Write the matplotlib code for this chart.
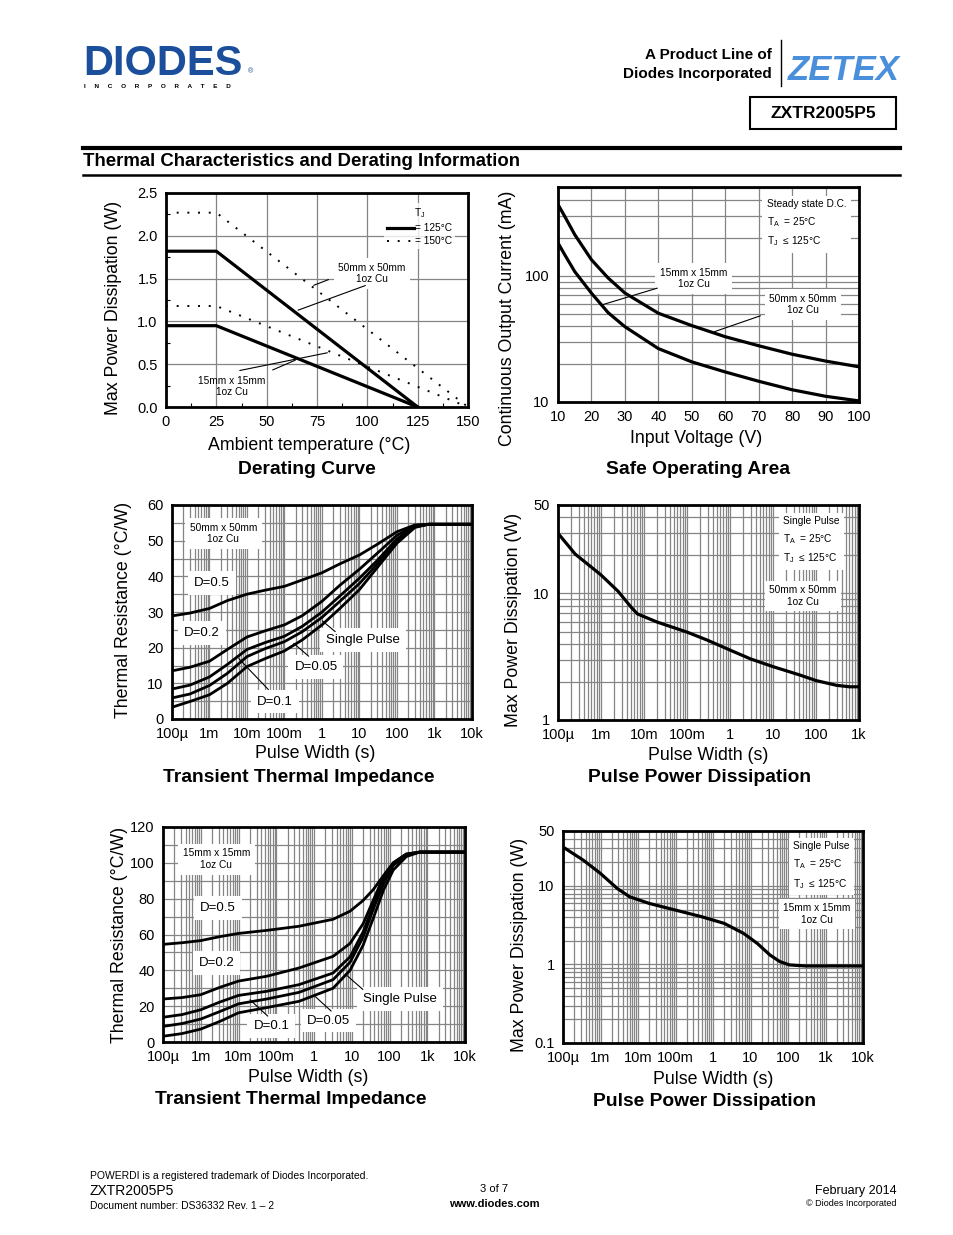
import numpy as np
import matplotlib.pyplot as plt
from matplotlib.ticker import MultipleLocator, LogLocator, NullFormatter
from matplotlib.lines import Line2D
from matplotlib.patches import Rectangle

plt.rcParams['font.family'] = ['Liberation Sans', 'DejaVu Sans']
plt.rcParams['mathtext.default'] = 'regular'

# ---- data ----
# Derating curve
der_temp_125 = [0, 25, 125]
der_50mm_125 = [1.82, 1.82, 0.0]
der_15mm_125 = [0.95, 0.95, 0.0]
der_temp_150 = [0, 25, 150]
der_50mm_150 = [2.27, 2.27, 0.0]
der_15mm_150 = [1.18, 1.18, 0.0]

# Safe operating area
soa_volt = [10, 12, 15, 20, 25, 30, 40, 50, 60, 70, 80, 90, 100]
soa_50mm = [367, 296, 212, 134, 96, 73, 50.5, 40.3, 32.9, 27.9, 23.9, 21.1, 19.0]
soa_15mm = [182, 147, 108, 72.8, 51, 39.5, 26.5, 20.8, 17.3, 14.6, 12.5, 11.1, 10.2]

# pulse width axis ticks
pw_ticks = [1e-4, 1e-3, 1e-2, 1e-1, 1, 10, 100, 1e3, 1e4]
pw_labels = ['100µ', '1m', '10m', '100m', '1', '10', '100', '1k', '10k']

# Transient thermal impedance, 50mm x 50mm
tr50_t = [1e-4, 3e-4, 1e-3, 3e-3, 1e-2, 3e-2, 0.1, 0.3, 1, 3, 10, 30, 100, 300, 700, 1e4]
tr50_single = [3.3, 4.9, 6.8, 10.0, 14.7, 16.9, 19.1, 22.2, 26.4, 31.0, 36.3, 42.5, 49.3, 53.7, 54.6, 54.6]
tr50_d005 = [5.9, 7.0, 9.4, 12.8, 17.5, 19.7, 21.7, 24.5, 28.5, 33.0, 38.0, 43.5, 50.0, 53.9, 54.6, 54.6]
tr50_d01 = [8.4, 9.5, 11.8, 15.3, 19.5, 21.4, 23.2, 26.0, 30.0, 34.5, 39.5, 44.5, 50.5, 54.0, 54.6, 54.6]
tr50_d02 = [13.5, 14.5, 16.2, 19.5, 23.0, 24.7, 26.4, 29.0, 33.0, 37.5, 42.0, 46.5, 51.5, 54.2, 54.6, 54.6]
tr50_d05 = [28.9, 29.7, 31.0, 33.2, 35.0, 36.1, 37.2, 39.0, 41.0, 43.5, 46.0, 49.0, 52.5, 54.4, 54.6, 54.6]

# Pulse power dissipation, 50mm x 50mm
pp50_t = [1e-4, 2.5e-4, 1e-3, 2.5e-3, 5e-3, 7e-3, 2e-2, 0.1, 0.3, 1, 3, 10, 40, 100, 300, 600, 1000]
pp50_p = [29.9, 20.5, 14.0, 10.4, 7.8, 6.9, 5.95, 4.95, 4.27, 3.57, 3.04, 2.64, 2.28, 2.05, 1.88, 1.83, 1.83]

# Transient thermal impedance, 15mm x 15mm
tr15_t = [1e-4, 3.2e-4, 1e-3, 3.2e-3, 1e-2, 5.6e-2, 0.4, 3.2, 9, 20, 37, 70, 126, 280, 630, 1e4]
tr15_single = [3.2, 4.7, 7.2, 11.5, 16.3, 19.2, 22.7, 30.0, 40.0, 54.0, 69.0, 85.0, 96.0, 103.5, 106, 106]
tr15_d005 = [8.7, 10.3, 12.8, 17.0, 21.3, 24.0, 27.7, 34.8, 44.5, 58.5, 74.0, 88.5, 98.6, 104.3, 106, 106]
tr15_d01 = [13.8, 15.3, 18.0, 22.3, 26.0, 28.3, 32.0, 38.5, 47.5, 61.5, 76.0, 90.0, 99.0, 104.5, 106, 106]
tr15_d02 = [24.0, 24.8, 26.4, 30.5, 34.0, 36.7, 41.3, 47.8, 55.0, 66.0, 79.0, 92.5, 100.0, 104.8, 106, 106]
tr15_d05 = [54.5, 55.4, 56.6, 58.8, 60.6, 62.3, 64.6, 68.5, 73.0, 79.0, 85.0, 93.0, 100.0, 105.0, 106, 106]

# Pulse power dissipation, 15mm x 15mm
pp15_t = [1e-4, 3.5e-4, 1e-3, 2.8e-3, 6e-3, 2e-2, 0.1, 0.5, 2, 6.5, 15, 33, 60, 110, 300, 1e4]
pp15_p = [31.3, 21.2, 14.4, 9.27, 7.26, 5.98, 4.92, 4.05, 3.33, 2.49, 1.86, 1.32, 1.09, 0.986, 0.957, 0.957]

W, H = 954, 1235
fig = plt.figure(figsize=(W / 100, H / 100), dpi=100)


def rect(l, t, r, b):
    return [l / W, 1 - b / H, (r - l) / W, (b - t) / H]


def ftext(px, py, s, **kw):
    return fig.text(px / W, 1 - py / H, s, **kw)


def hline(x0, x1, py, lw, color='black'):
    fig.add_artist(Line2D([x0 / W, x1 / W], [1 - py / H, 1 - py / H], lw=lw, color=color))


def style(ax, which='both'):
    for sp in ax.spines.values():
        sp.set_linewidth(2)
    ax.tick_params(which='both', length=0, labelsize=10.5, pad=6)
    ax.grid(which=which, color='#858585', lw=0.9)
    ax.set_axisbelow(True)


def log_pw(ax, lo, hi):
    ax.set_xscale('log')
    ax.set_xlim(lo, hi)
    n = [t for t in pw_ticks if lo <= t <= hi]
    ax.set_xticks(n)
    ax.set_xticklabels(pw_labels[:len(n)])
    ax.xaxis.set_minor_locator(LogLocator(base=10, subs=np.arange(2, 10), numticks=100))
    ax.xaxis.set_minor_formatter(NullFormatter())


box = dict(boxstyle='square,pad=0.45', fc='white', ec='none')
small = 7.3
lab = 9.5
thick = 2.3
axl = 12.8
ttl = 13.9

# ---- header ----
ftext(83, 75, 'DIODES', fontsize=30, fontweight='bold', color='#1b4f9c', va='baseline')
hline(84, 244, 61, 1.3, 'white')
ftext(248, 73, '®', fontsize=5, color='#1b4f9c', va='baseline')
ftext(84, 88, 'I     N     C     O     R     P     O     R     A     T     E     D', fontsize=4.6,
      fontweight='bold', va='baseline')
ftext(772, 55, 'A Product Line of', fontsize=11, fontweight='bold', ha='right', va='center')
ftext(772, 74, 'Diodes Incorporated', fontsize=11, fontweight='bold', ha='right', va='center')
fig.add_artist(Line2D([781 / W, 781 / W], [1 - 40 / H, 1 - 86 / H], lw=1, color='black'))
ftext(788, 80, 'ZETEX', fontsize=25, fontweight='bold', fontstyle='italic', color='#4a8fdc',
      va='baseline', family=['Liberation Sans Narrow', 'Liberation Sans'])
fig.add_artist(Rectangle((750 / W, 1 - 129 / H), 146 / W, 32 / H, fill=False, lw=1.5,
                         transform=fig.transFigure))
ftext(823, 113, 'ZXTR2005P5', fontsize=12.5, fontweight='bold', ha='center', va='center')

hline(83, 900, 148, 3)
ftext(83, 162, 'Thermal Characteristics and Derating Information', fontsize=13.4,
      fontweight='bold', va='center')
hline(83, 900, 175, 1.8)

# ---- Derating curve ----
ax = fig.add_axes(rect(166, 193, 468, 407))
style(ax, 'major')
ax.plot(der_temp_125, der_50mm_125, color='black', lw=thick, label='= 125°C', zorder=4)
ax.plot(der_temp_125, der_15mm_125, color='black', lw=thick, zorder=4)
ax.plot(der_temp_150, der_50mm_150, color='black', lw=1.4, ls=(0, (1, 4.5)), label='= 150°C', zorder=4)
ax.plot(der_temp_150, der_15mm_150, color='black', lw=1.4, ls=(0, (1, 4.5)), zorder=4)
ax.set_xlim(0, 150)
ax.set_ylim(0, 2.5)
ax.set_xticks(np.arange(0, 151, 25))
ax.set_yticks(np.arange(0, 2.51, 0.5))
ax.set_yticklabels(['%.1f' % v for v in np.arange(0, 2.51, 0.5)])
ax.xaxis.set_minor_locator(MultipleLocator(12.5))
ax.yaxis.set_minor_locator(MultipleLocator(0.25))
ax.tick_params(which='minor', direction='in', length=3, width=0.8)
leg = ax.legend(title='T$_J$', loc='upper right', bbox_to_anchor=(0.975, 0.975), fontsize=small,
                title_fontsize=small, handlelength=2.7, handletextpad=0.1, frameon=True,
                fancybox=False, edgecolor='none', borderpad=0.3, labelspacing=0.3)
ax.text(102.3, 1.56, '50mm x 50mm\n1oz Cu', fontsize=small, ha='center', va='center', bbox=box, zorder=3)
ax.annotate('', xy=(72.1, 1.41), xytext=(82, 1.50), arrowprops=dict(arrowstyle='-', lw=0.8))
ax.annotate('', xy=(64.3, 1.12), xytext=(100.3, 1.43), arrowprops=dict(arrowstyle='-', lw=0.8))
ax.text(32.8, 0.24, '15mm x 15mm\n1oz Cu', fontsize=small, ha='center', va='center', zorder=3)
ax.annotate('', xy=(81.5, 0.64), xytext=(35.3, 0.42), arrowprops=dict(arrowstyle='-', lw=0.8))
ax.annotate('', xy=(65.5, 0.56), xytext=(51.7, 0.42), arrowprops=dict(arrowstyle='-', lw=0.8))
ftext(309, 445, 'Ambient temperature (°C)', fontsize=axl, ha='center', va='center')
ftext(114, 308, 'Max Power Dissipation (W)', fontsize=axl, ha='center', va='center', rotation=90)
ftext(307, 470, 'Derating Curve', fontsize=ttl, fontweight='bold', ha='center', va='center')

# ---- Safe operating area ----
ax = fig.add_axes(rect(558, 187, 859, 402))
style(ax)
ax.plot(soa_volt, soa_50mm, color='black', lw=thick, zorder=4)
ax.plot(soa_volt, soa_15mm, color='black', lw=thick, zorder=4)
ax.set_yscale('log')
ax.set_xlim(10, 100)
ax.set_ylim(10, 505)
ax.set_xticks(np.arange(10, 101, 10))
ax.set_yticks([10, 100])
ax.set_yticklabels(['10', '100'])
ax.yaxis.set_minor_locator(LogLocator(base=10, subs=np.arange(2, 10), numticks=100))
ax.yaxis.set_minor_formatter(NullFormatter())
ax.text(0.694, 0.945, 'Steady state D.C.\nT$_A$  = 25°C\nT$_J$  ≤ 125°C', transform=ax.transAxes,
        fontsize=small, ha='left', va='top', linespacing=1.6, bbox=box, zorder=3)
ax.text(50.5, 95, '15mm x 15mm\n1oz Cu', fontsize=small, ha='center', va='center', bbox=box, zorder=3)
ax.annotate('', xy=(22.1, 57.7), xytext=(40.5, 81), arrowprops=dict(arrowstyle='-', lw=0.8))
ax.text(83.3, 59, '50mm x 50mm\n1oz Cu', fontsize=small, ha='center', va='center', bbox=box, zorder=3)
ax.annotate('', xy=(55.9, 35.4), xytext=(71.3, 49), arrowprops=dict(arrowstyle='-', lw=0.8))
ftext(696, 438, 'Input Voltage (V)', fontsize=axl, ha='center', va='center')
ftext(508, 318, 'Continuous Output Current (mA)', fontsize=axl, ha='center', va='center', rotation=90)
ftext(698, 469, 'Safe Operating Area', fontsize=ttl, fontweight='bold', ha='center', va='center')

# ---- Transient thermal impedance 50mm ----
ax = fig.add_axes(rect(172, 505, 472, 719))
style(ax)
for ys in [tr50_single, tr50_d005, tr50_d01, tr50_d02, tr50_d05]:
    ax.plot(tr50_t, ys, color='black', lw=2.0, zorder=4)
log_pw(ax, 1e-4, 1e4)
ax.set_ylim(0, 60)
ax.yaxis.set_major_locator(MultipleLocator(10))
ax.yaxis.set_minor_locator(MultipleLocator(5))
ax.text(10 ** -2.63, 52, '50mm x 50mm\n1oz Cu', fontsize=small, ha='center', va='center', bbox=box, zorder=3)
ax.text(10 ** -2.94, 38.2, 'D=0.5', fontsize=lab, ha='center', va='center', bbox=box, zorder=3)
ax.text(10 ** -3.2, 24.2, 'D=0.2', fontsize=lab, ha='center', va='center', bbox=box, zorder=3)
ax.text(10 ** 1.1, 22.2, 'Single Pulse', fontsize=lab, ha='center', va='center', bbox=box, zorder=3)
ax.text(10 ** -0.16, 14.5, 'D=0.05', fontsize=lab, ha='center', va='center', bbox=box, zorder=3)
ax.text(10 ** -1.25, 4.9, 'D=0.1', fontsize=lab, ha='center', va='center', bbox=box, zorder=3)
ax.annotate('', xy=(10 ** -0.05, 28), xytext=(10 ** 0.41, 24), arrowprops=dict(arrowstyle='-', lw=0.8))
ax.annotate('', xy=(10 ** -0.81, 21.7), xytext=(10 ** -0.3, 17.1), arrowprops=dict(arrowstyle='-', lw=0.8))
ax.annotate('', xy=(10 ** -2.27, 17.5), xytext=(10 ** -1.38, 7.7), arrowprops=dict(arrowstyle='-', lw=0.8))
ftext(315, 753, 'Pulse Width (s)', fontsize=axl, ha='center', va='center')
ftext(124, 610, 'Thermal Resistance (°C/W)', fontsize=axl, ha='center', va='center', rotation=90)
ftext(299, 777, 'Transient Thermal Impedance', fontsize=ttl, fontweight='bold', ha='center', va='center')

# ---- Pulse power dissipation 50mm ----
ax = fig.add_axes(rect(558, 505, 859, 720))
style(ax)
ax.plot(pp50_t, pp50_p, color='black', lw=thick, zorder=4)
log_pw(ax, 1e-4, 1e3)
ax.set_yscale('log')
ax.set_ylim(1, 50)
ax.set_yticks([1, 10, 50])
ax.set_yticklabels(['1', '10', '50'])
ax.yaxis.set_minor_locator(LogLocator(base=10, subs=np.arange(2, 10), numticks=100))
ax.yaxis.set_minor_formatter(NullFormatter())
ax.text(0.748, 0.95, 'Single Pulse\nT$_A$  = 25°C\nT$_J$  ≤ 125°C', transform=ax.transAxes,
        fontsize=small, ha='left', va='top', linespacing=1.6, bbox=box, zorder=3)
ax.text(0.814, 0.577, '50mm x 50mm\n1oz Cu', transform=ax.transAxes, fontsize=small,
        ha='center', va='center', bbox=box, zorder=3)
ftext(708, 755, 'Pulse Width (s)', fontsize=axl, ha='center', va='center')
ftext(514, 620, 'Max Power Dissipation (W)', fontsize=axl, ha='center', va='center', rotation=90)
ftext(700, 778, 'Pulse Power Dissipation', fontsize=ttl, fontweight='bold', ha='center', va='center')

# ---- Transient thermal impedance 15mm ----
ax = fig.add_axes(rect(163, 827, 465, 1042))
style(ax)
for ys in [tr15_single, tr15_d005, tr15_d01, tr15_d02, tr15_d05]:
    ax.plot(tr15_t, ys, color='black', lw=2.0, zorder=4)
log_pw(ax, 1e-4, 1e4)
ax.set_ylim(0, 120)
ax.yaxis.set_major_locator(MultipleLocator(20))
ax.yaxis.set_minor_locator(MultipleLocator(10))
ax.text(10 ** -2.585, 102, '15mm x 15mm\n1oz Cu', fontsize=small, ha='center', va='center', bbox=box, zorder=3)
ax.text(10 ** -2.54, 74.8, 'D=0.5', fontsize=lab, ha='center', va='center', bbox=box, zorder=3)
ax.text(10 ** -2.585, 44, 'D=0.2', fontsize=lab, ha='center', va='center', bbox=box, zorder=3)
ax.text(10 ** 2.28, 24, 'Single Pulse', fontsize=lab, ha='center', va='center', bbox=box, zorder=3)
ax.text(10 ** 0.377, 12, 'D=0.05', fontsize=lab, ha='center', va='center', bbox=box, zorder=3)
ax.text(10 ** -1.13, 8.7, 'D=0.1', fontsize=lab, ha='center', va='center', bbox=box, zorder=3)
ax.annotate('', xy=(10 ** 0.775, 38.9), xytext=(10 ** 1.35, 28.3), arrowprops=dict(arrowstyle='-', lw=0.8))
ax.annotate('', xy=(10 ** -0.02, 26.4), xytext=(10 ** 0.51, 16.2), arrowprops=dict(arrowstyle='-', lw=0.8))
ax.annotate('', xy=(10 ** -1.75, 24.6), xytext=(10 ** -1.17, 13.4), arrowprops=dict(arrowstyle='-', lw=0.8))
ftext(308, 1077, 'Pulse Width (s)', fontsize=axl, ha='center', va='center')
ftext(120, 935, 'Thermal Resistance (°C/W)', fontsize=axl, ha='center', va='center', rotation=90)
ftext(291, 1100, 'Transient Thermal Impedance', fontsize=ttl, fontweight='bold', ha='center', va='center')

# ---- Pulse power dissipation 15mm ----
ax = fig.add_axes(rect(563, 831, 863, 1043))
style(ax)
ax.plot(pp15_t, pp15_p, color='black', lw=thick, zorder=4)
log_pw(ax, 1e-4, 1e4)
ax.set_yscale('log')
ax.set_ylim(0.1, 50)
ax.set_yticks([0.1, 1, 10, 50])
ax.set_yticklabels(['0.1', '1', '10', '50'])
ax.yaxis.set_minor_locator(LogLocator(base=10, subs=np.arange(2, 10), numticks=100))
ax.yaxis.set_minor_formatter(NullFormatter())
ax.text(0.767, 0.953, 'Single Pulse\nT$_A$  = 25°C\nT$_J$  ≤ 125°C', transform=ax.transAxes,
        fontsize=small, ha='left', va='top', linespacing=1.6, bbox=box, zorder=3)
ax.text(0.847, 0.608, '15mm x 15mm\n1oz Cu', transform=ax.transAxes, fontsize=small,
        ha='center', va='center', bbox=box, zorder=3)
ftext(713, 1079, 'Pulse Width (s)', fontsize=axl, ha='center', va='center')
ftext(520, 945, 'Max Power Dissipation (W)', fontsize=axl, ha='center', va='center', rotation=90)
ftext(705, 1101, 'Pulse Power Dissipation', fontsize=ttl, fontweight='bold', ha='center', va='center')

# ---- footer ----
ftext(90, 1176, 'POWERDI is a registered trademark of Diodes Incorporated.', fontsize=7.5, va='center')
ftext(90, 1191, 'ZXTR2005P5', fontsize=10, va='center')
ftext(90, 1206, 'Document number: DS36332 Rev. 1 – 2', fontsize=7.5, va='center')
ftext(494, 1189, '3 of 7', fontsize=8, ha='center', va='center')
ftext(494, 1204, 'www.diodes.com', fontsize=8, fontweight='bold', ha='center', va='center')
ftext(897, 1191, 'February 2014', fontsize=9, ha='right', va='center')
ftext(897, 1204, '© Diodes Incorporated', fontsize=6.5, ha='right', va='center')

fig.savefig('out.png', dpi=100)
